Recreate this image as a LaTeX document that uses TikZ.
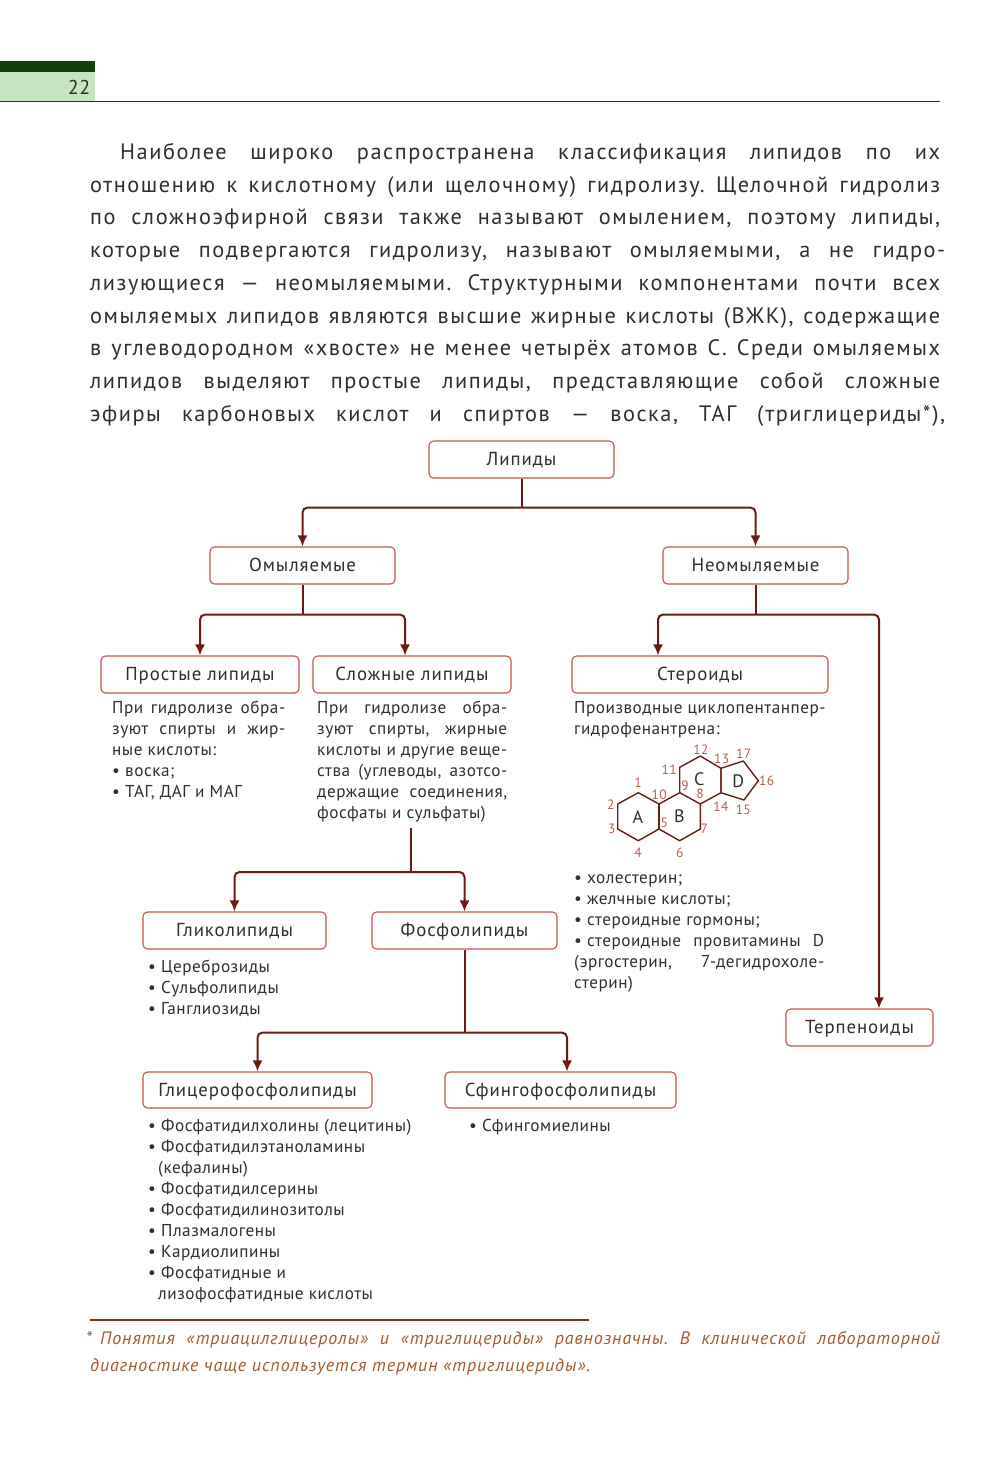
\documentclass[tikz,border=0pt]{standalone}
\usepackage{fontspec}
\setmainfont{PT Sans}[LetterSpace=3]
\newfontfamily\bodyf{PT Sans}[LetterSpace=7]
\newfontfamily\labf{PT Sans}[LetterSpace=5]
\usetikzlibrary{arrows.meta}
\definecolor{ink}{HTML}{2E2E2E}
\definecolor{boxred}{HTML}{C4544A}
\definecolor{conn}{HTML}{6A1B12}
\definecolor{num}{HTML}{B5604A}
\definecolor{foot}{HTML}{A5592F}
\definecolor{dkgreen}{HTML}{12400C}
\definecolor{ltgreen}{HTML}{C6E4BE}
\frenchspacing
\newcommand{\jl}[2]{\makebox[#1pt][s]{#2}}
\newcommand{\bl}[1]{\makebox[13pt][l]{\textbullet}#1}
\newcommand{\blk}[4]{\node[txtblock,anchor=north west] (#1) at (#2,{14.7-#3}) {\strut #4};}
\newcommand{\bodyline}[4]{\node[bodyln,anchor=base west] (#1) at (#2,-#3) {#4};}
\tikzset{
  x=1pt,y=1pt,
  lbox/.style={draw=boxred,line width=1.1pt,rounded corners=4.5pt,fill=white,inner sep=0pt,text=ink,
    font=\labf\fontsize{18.8}{21}\selectfont,anchor=center,text height=14pt,text depth=2pt},
  trunk/.style={draw=conn,line width=2pt},
  arr/.style={draw=conn,line width=2pt,rounded corners=5pt,-{Latex[length=11pt,width=10pt]}},
  txtblock/.style={inner sep=0pt,align=left,text=ink,font=\fontsize{17.2}{21}\selectfont},
  bodyln/.style={inner sep=0pt,text=ink,font=\bodyf\fontsize{22.3}{33}\selectfont},
  footln/.style={inner sep=0pt,anchor=base west,text=foot,font=\footf\fontsize{18}{27}\selectfont},
  numl/.style={inner sep=0pt,text=num,font=\fontsize{13.5}{15}\selectfont},
  ringl/.style={inner sep=0pt,text=ink,font=\fontsize{18}{20}\selectfont},
  ring/.style={draw=conn,line width=1.4pt,line join=round},
}
\newfontfamily\footf{PT Sans Italic}[LetterSpace=5]
\newcommand{\lb}[6]{\node[lbox,minimum width={#4-#2},minimum height={#5-#3}] (#1) at ({(#2+#4)/2},{-(#3+#5)/2}) {#6};}
\begin{document}
\begin{tikzpicture}
\useasboundingbox (0,0) rectangle (1000,-1461);
% header
\fill[ltgreen] (0,-72) rectangle (95,-102);
\fill[dkgreen] (0,-61) rectangle (95,-72);
\draw[dkgreen,line width=1pt] (0,-102) -- (940,-102);
\node[inner sep=0pt,text=ink,font=\fontsize{20}{22}\selectfont] (pg) at (79,-87) {22};
% body
\bodyline{b1}{120}{159}{\jl{820}{Наиболее широко распространена классификация липидов по их}}
\bodyline{b2}{90}{192}{\jl{850}{отношению к кислотному (или щелочному) гидролизу. Щелочной гидролиз}}
\bodyline{b3}{90}{224}{\jl{850}{по сложноэфирной связи также называют омылением, поэтому липиды,}}
\bodyline{b4}{90}{257}{\jl{855}{которые подвергаются гидролизу, называют омыляемыми, а не гидро-}}
\bodyline{b5}{90}{290}{\jl{850}{лизующиеся — неомыляемыми. Структурными компонентами почти всех}}
\bodyline{b6}{90}{323}{\jl{850}{омыляемых липидов являются высшие жирные кислоты (ВЖК), содержащие}}
\bodyline{b7}{90}{355}{\jl{850}{в углеводородном «хвосте» не менее четырёх атомов С. Среди омыляемых}}
\bodyline{b8}{90}{388}{\jl{850}{липидов выделяют простые липиды, представляющие собой сложные}}
\bodyline{b9}{90}{421}{\jl{855}{эфиры карбоновых кислот и спиртов — воска, ТАГ (триглицериды*),}}
% boxes
\lb{lip}{429}{441}{614}{478}{Липиды}
\lb{omyl}{210}{547}{395}{584}{Омыляемые}
\lb{neom}{663}{547}{848}{584}{Неомыляемые}
\lb{prost}{101}{656}{299}{693}{Простые липиды}
\lb{slozh}{313}{656}{511}{693}{Сложные липиды}
\lb{ster}{572}{656}{828}{693}{Стероиды}
\lb{glik}{143}{912}{326}{949}{Гликолипиды}
\lb{fosf}{372}{912}{557}{949}{Фосфолипиды}
\lb{terp}{786}{1009}{933}{1046}{Терпеноиды}
\lb{glic}{143}{1072}{372}{1108}{Глицерофосфолипиды}
\lb{sfin}{445}{1072}{676}{1108}{Сфингофосфолипиды}
% text blocks
\blk{tprost}{112}{713}{\jl{173}{При гидролизе обра-}\\\jl{173}{зуют спирты и жир-}\\ные кислоты:\\\bl{воска;}\\\bl{ТАГ, ДАГ и МАГ}}
\blk{tslozh}{317}{713}{\jl{190}{При гидролизе обра-}\\\jl{190}{зуют спирты, жирные}\\\jl{190}{кислоты и другие веще-}\\\jl{190}{ства (углеводы, азотсо-}\\\jl{190}{держащие соединения,}\\фосфаты и сульфаты)}
\blk{tster}{574}{713}{Производные циклопентанпер-\\гидрофенантрена:}
\blk{tster2}{574}{883}{\bl{холестерин;}\\\bl{желчные кислоты;}\\\bl{стероидные гормоны;}\\\bl{\jl{237}{стероидные провитамины D}}\\\jl{250}{(эргостерин, 7-дегидрохоле-}\\стерин)}
\blk{tglik}{148}{972}{\bl{Цереброзиды}\\\bl{Сульфолипиды}\\\bl{Ганглиозиды}}
\blk{tglic}{148}{1131}{\bl{Фосфатидилхолины (лецитины)}\\\bl{Фосфатидилэтаноламины}\\\hspace{10pt}(кефалины)\\\bl{Фосфатидилсерины}\\\bl{Фосфатидилинозитолы}\\\bl{Плазмалогены}\\\bl{Кардиолипины}\\\bl{Фосфатидные и}\\\hspace{10pt}лизофосфатидные кислоты}
\blk{tsfin}{469}{1131}{\bl{Сфингомиелины}}
% connectors
\coordinate (slozhend) at (411,-828);
\coordinate (j1) at ([yshift=-29pt]lip.south);
\coordinate (j2) at ([yshift=-30pt]omyl.south);
\coordinate (j3) at ([yshift=-30pt]neom.south);
\coordinate (j4) at ([yshift=-44pt]slozhend);
\coordinate (j5) at ([yshift=-83pt]fosf.south);
\draw[trunk] (lip.south) -- (j1);
\draw[trunk] (omyl.south) -- (j2);
\draw[trunk] (neom.south) -- (j3);
\draw[trunk] (slozhend) -- (j4);
\draw[trunk] (fosf.south) -- (j5);
\draw[arr] (j1) -| (omyl.north);
\draw[arr] (j1) -| (neom.north);
\draw[arr] (j2) -| (prost.north);
\draw[arr] (j2) -| (slozh.north -| 405,0);
\draw[arr] (j3) -| (ster.north -| 658,0);
\draw[arr] (j3) -| (terp.north -| 879,0);
\draw[arr] (j4) -| (glik.north);
\draw[arr] (j4) -| (fosf.north);
\draw[arr] (j5) -| (glic.north);
\draw[arr] (j5) -| (sfin.north -| 567,0);
% steroid skeleton
\coordinate (v1) at (638.3,-792.7);
\coordinate (v2) at (617.7,-804);
\coordinate (v3) at (617.7,-829);
\coordinate (v4) at (638.3,-840.7);
\coordinate (v5) at (659,-829);
\coordinate (v6) at (679.7,-840.7);
\coordinate (v7) at (700.3,-829);
\coordinate (v8) at (700.3,-804);
\coordinate (v9) at (679.7,-792.7);
\coordinate (v10) at (659,-804);
\coordinate (v11) at (679.7,-767.3);
\coordinate (v12) at (700.3,-756);
\coordinate (v13) at (721,-768.3);
\coordinate (v14) at (721,-792.7);
\coordinate (v15) at (744,-800);
\coordinate (v16) at (758.3,-780.7);
\coordinate (v17) at (743.3,-761);
\draw[ring] (v1) -- (v2) -- (v3) -- (v4) -- (v5) -- (v6) -- (v7) -- (v8) -- (v9) -- (v10) -- cycle;
\draw[ring] (v10) -- (v5);
\draw[ring] (v9) -- (v11) -- (v12) -- (v13) -- (v14) -- (v8);
\draw[ring] (v13) -- (v17) -- (v16) -- (v15) -- (v14) -- cycle;
\node[ringl] (ra) at (638,-817) {A};
\node[ringl] (rb) at (679.3,-816) {B};
\node[ringl] (rc) at (699.3,-779.3) {C};
\node[ringl] (rd) at (738.3,-781) {D};
\node[numl] (n1) at (638,-783) {1};
\node[numl] (n2) at (610.7,-804.7) {2};
\node[numl] (n3) at (611.7,-829) {3};
\node[numl] (n4) at (638,-852.7) {4};
\node[numl] (n5) at (664.3,-822.7) {5};
\node[numl] (n6) at (679.7,-852.7) {6};
\node[numl] (n7) at (704.3,-828.7) {7};
\node[numl] (n8) at (700,-793.3) {8};
\node[numl] (n9) at (685,-786) {9};
\node[numl] (n10) at (659.3,-795) {10};
\node[numl] (n11) at (669.3,-769.3) {11};
\node[numl] (n12) at (701,-750) {12};
\node[numl] (n13) at (721.7,-758.7) {13};
\node[numl] (n14) at (721,-806.7) {14};
\node[numl] (n15) at (743.3,-810) {15};
\node[numl] (n16) at (766.7,-780.7) {16};
\node[numl] (n17) at (743.7,-754) {17};
% footnote
\draw[draw=conn!80!orange,line width=1.2pt] (90,-1320) -- (589,-1320);
\node[footln] (f1) at (86,-1344) {\jl{854}{*\hspace{8pt}Понятия «триацилглицеролы» и «триглицериды» равнозначны. В клинической лабораторной}};
\node[footln] (f2) at (90,-1371) {диагностике чаще используется термин «триглицериды».};
\end{tikzpicture}
\end{document}
